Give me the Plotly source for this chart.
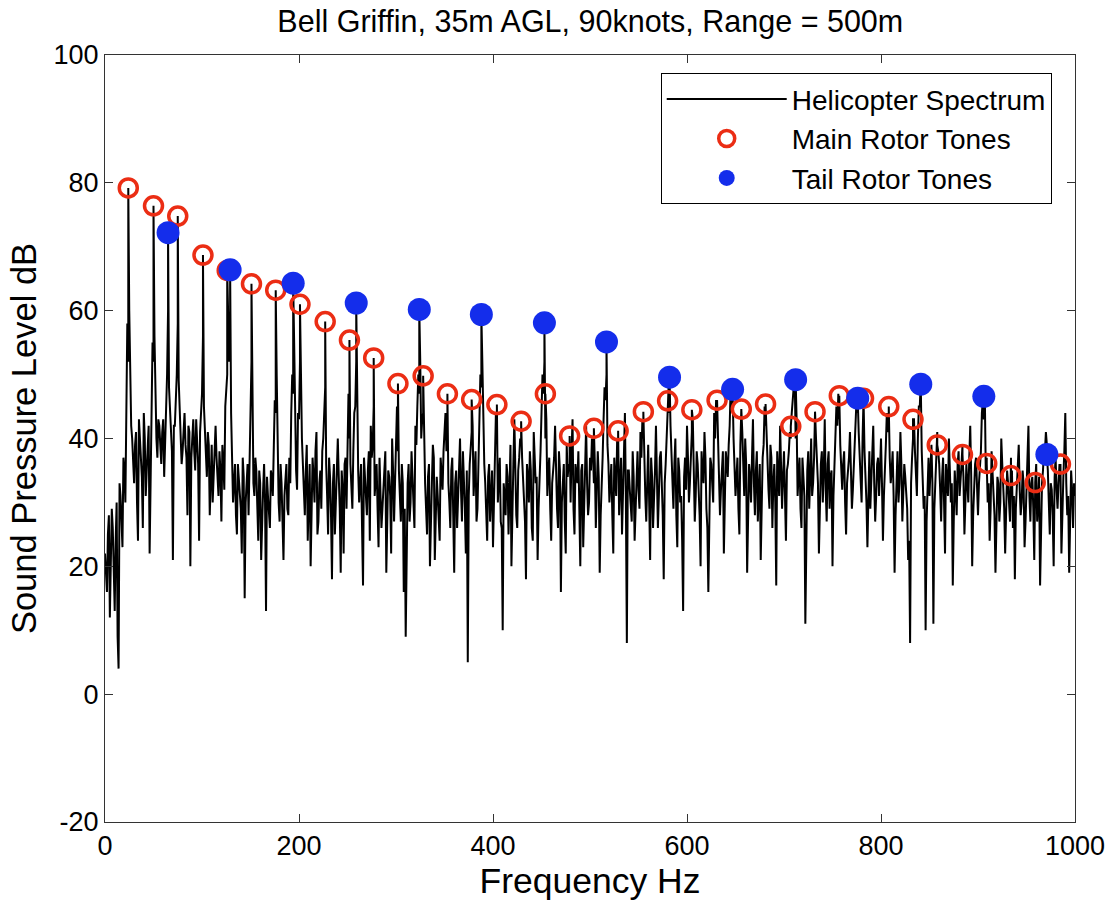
import numpy as np
import plotly.graph_objects as go

# ---------------- data ----------------
# Main rotor tones: frequency (Hz) and level (dB)
main_freq = [24, 50, 75, 101, 126, 151, 176, 201, 227, 252, 277, 302, 328, 353,
             378, 404, 429, 454, 479, 504, 529, 555, 580, 605, 631, 656, 681,
             707, 732, 757, 782, 808, 833, 858, 884, 909, 934, 959, 985]
main_db = [79.2, 76.4, 74.8, 68.7, 66.3, 64.2, 63.2, 61.0, 58.3, 55.4, 52.6,
           48.6, 49.8, 47.0, 46.1, 45.3, 42.7, 47.0, 40.4, 41.6, 41.2, 44.2,
           45.9, 44.5, 46.0, 44.6, 45.4, 41.9, 44.2, 46.7, 46.3, 45.0, 43.0,
           39.0, 37.5, 36.1, 34.2, 33.1, 36.0]

# Tail rotor tones
tail_freq = [65, 129, 194, 259, 324, 388, 453, 517, 582, 647, 712, 776, 841, 906, 971]
tail_db = [72.2, 66.4, 64.3, 61.2, 60.2, 59.4, 58.1, 55.1, 49.6, 47.7, 49.2,
           46.3, 48.5, 46.6, 37.5]

# Broadband spectrum (dB) on even-Hz bins 0, 2, ..., 1000
spec_db_even = [
    22, 16, 28, 19, 26, 13, 30, 4, 31, 23, 35, 45, 52, 47, 40, 33, 41, 24, 39, 34, 44, 31, 38, 22, 46,
    52, 44, 37, 42, 36, 43, 39, 50, 48, 40, 21, 42, 50, 49, 41, 38, 44, 37, 42, 20, 40, 38, 43, 36, 41,
    47, 45, 37, 41, 28, 39, 34, 42, 33, 38, 27, 36, 45, 50, 52, 44, 30, 36, 25, 34, 29, 37, 15, 33, 28,
    45, 40, 31, 35, 24, 33, 28, 36, 13, 31, 26, 34, 40, 44, 35, 27, 33, 21, 34, 29, 37, 44, 47, 39, 32,
    43, 45, 36, 28, 39, 33, 20, 37, 30, 41, 27, 35, 38, 44, 36, 25, 34, 18, 36, 31, 40, 29, 35, 22, 37,
    42, 40, 32, 38, 45, 41, 30, 36, 17, 34, 28, 38, 42, 39, 31, 36, 23, 33, 29, 37, 19, 35, 31, 40, 27,
    41, 38, 30, 36, 16, 9, 33, 27, 38, 31, 42, 45, 47, 40, 44, 33, 25, 36, 30, 39, 21, 34, 28, 37, 32,
    41, 38, 33, 26, 37, 19, 35, 30, 40, 27, 34, 22, 5, 36, 41, 31, 38, 29, 44, 48, 39, 33, 24, 36, 30,
    23, 37, 42, 34, 27, 10, 31, 36, 25, 39, 32, 43, 28, 35, 40, 37, 29, 18, 34, 38, 26, 41, 33, 21, 36,
    44, 47, 40, 31, 37, 24, 35, 42, 29, 38, 16, 33, 27, 39, 36, 30, 43, 25, 34, 38, 20, 36, 31, 42, 28,
    37, 40, 33, 26, 38, 19, 35, 43, 46, 39, 30, 36, 22, 34, 40, 28, 37, 31, 44, 8, 35, 29, 38, 24, 36,
    32, 41, 43, 35, 27, 39, 21, 34, 30, 42, 26, 37, 33, 18, 36, 45, 44, 38, 29, 40, 23, 35, 31, 13, 37,
    42, 30, 36, 43, 27, 38, 33, 20, 35, 41, 29, 16, 37, 32, 44, 46, 39, 28, 36, 22, 38, 34, 42, 45, 40,
    31, 37, 25, 44, 35, 40, 19, 36, 30, 43, 28, 38, 33, 21, 37, 45, 41, 32, 39, 26, 36, 17, 34, 42, 29,
    38, 24, 36, 41, 44, 47, 40, 31, 37, 26, 34, 11, 35, 29, 40, 33, 42, 37, 22, 36, 30, 43, 27, 38, 34,
    20, 37, 45, 47, 39, 32, 38, 25, 35, 41, 29, 36, 45, 44, 37, 30, 46, 35, 23, 38, 33, 42, 27, 36, 31,
    40, 24, 37, 44, 42, 33, 38, 19, 35, 30, 41, 27, 36, 32, 21, 8, 37, 43, 34, 40, 45, 38, 29, 10, 34,
    31, 39, 11, 33, 41, 36, 27, 37, 22, 34, 40, 30, 17, 35, 28, 38, 33, 39, 25, 36, 30, 42, 20, 33, 37,
    28, 36, 44, 43, 35, 30, 24, 38, 31, 19, 34, 27, 40, 33, 22, 35, 29, 37, 26, 18, 33, 39, 28, 35, 23,
    32, 42, 27, 34, 21, 36, 30, 17, 33, 38, 41, 35, 25, 32, 20, 37, 29, 36, 22, 34, 44, 28, 19, 35, 26,
    31,
]

# Broadband spectrum (dB) on odd-Hz bins 1, 3, ..., 999
spec_db_odd = [
    19, 25, 12, 29, 17, 24, 9, 33, 27, 37, 30, 58, 60, 42, 36, 39, 30, 43, 36, 26, 40, 35, 42, 33, 55,
    56, 40, 43, 38, 41, 34, 44, 60, 45, 38, 42, 46, 58, 44, 36, 42, 39, 28, 41, 37, 43, 35, 40, 24, 44,
    56, 41, 34, 39, 36, 30, 40, 37, 31, 35, 39, 32, 48, 58, 55, 38, 33, 28, 36, 31, 22, 34, 30, 36, 38,
    52, 33, 37, 29, 35, 21, 32, 30, 34, 27, 35, 31, 46, 50, 30, 36, 25, 31, 36, 28, 33, 50, 55, 35, 44,
    52, 40, 31, 35, 24, 36, 30, 34, 38, 25, 33, 29, 40, 48, 31, 37, 28, 33, 25, 38, 34, 19, 32, 36, 29,
    47, 36, 29, 44, 52, 35, 33, 26, 37, 31, 35, 24, 37, 45, 34, 29, 37, 26, 33, 38, 27, 34, 22, 35, 33,
    45, 35, 27, 33, 29, 24, 36, 30, 34, 26, 39, 50, 52, 43, 37, 29, 34, 20, 33, 37, 28, 31, 24, 35, 38,
    44, 42, 30, 35, 28, 33, 26, 36, 32, 38, 29, 35, 31, 38, 42, 35, 27, 36, 50, 52, 36, 29, 34, 27, 35,
    32, 44, 30, 37, 26, 33, 28, 34, 31, 20, 36, 33, 26, 37, 39, 33, 27, 36, 30, 35, 24, 37, 34, 29, 38,
    50, 52, 43, 35, 29, 33, 37, 32, 26, 35, 30, 36, 22, 34, 35, 38, 29, 36, 33, 27, 35, 23, 38, 33, 30,
    35, 38, 36, 31, 34, 28, 37, 48, 50, 36, 33, 28, 37, 31, 36, 33, 25, 38, 30, 35, 32, 27, 34, 29, 38,
    29, 37, 40, 31, 35, 30, 37, 26, 35, 33, 31, 38, 28, 33, 40, 48, 42, 33, 36, 28, 37, 30, 24, 34, 32,
    37, 33, 41, 35, 31, 36, 28, 38, 33, 37, 26, 33, 36, 30, 40, 43, 34, 32, 38, 29, 36, 39, 48, 49, 35,
    34, 29, 39, 41, 31, 36, 27, 34, 37, 33, 35, 27, 36, 31, 39, 42, 35, 29, 37, 33, 30, 38, 31, 36, 34,
    31, 35, 38, 40, 46, 50, 43, 34, 29, 37, 31, 27, 38, 34, 31, 37, 40, 33, 30, 38, 35, 32, 36, 29, 35,
    31, 40, 42, 43, 35, 36, 30, 33, 37, 34, 32, 40, 47, 41, 33, 40, 38, 30, 35, 29, 38, 33, 31, 37, 35,
    33, 31, 39, 41, 37, 35, 31, 28, 38, 33, 36, 31, 34, 29, 24, 33, 40, 38, 31, 45, 49, 34, 31, 27, 37,
    35, 33, 29, 37, 38, 32, 34, 30, 36, 31, 35, 33, 27, 32, 36, 31, 36, 34, 30, 33, 37, 34, 28, 36, 32,
    33, 38, 46, 47, 37, 33, 29, 34, 28, 31, 33, 30, 36, 29, 31, 33, 27, 35, 31, 29, 35, 32, 30, 33, 27,
    35, 31, 33, 29, 33, 27, 34, 30, 35, 38, 39, 31, 33, 28, 34, 32, 33, 35, 30, 38, 33, 31, 27, 32, 33,
]

title_text = "Bell Griffin, 35m AGL, 90knots, Range = 500m"
x_title = "Frequency Hz"
y_title = "Sound Pressure Level dB"
x_ticks = [0, 200, 400, 600, 800, 1000]
y_ticks = [-20, 0, 20, 40, 60, 80, 100]
y_tick_text = ["-20", "0", "20", "40", "60", "80", "100"]

# ---------------- build spectrum (noise bins + tone peaks) ----------------
pts = [(2 * i, v) for i, v in enumerate(spec_db_even)]
pts += [(2 * i + 1, v) for i, v in enumerate(spec_db_odd)]
pts += list(zip(main_freq, main_db)) + list(zip(tail_freq, tail_db))
pts.sort(key=lambda p: p[0])
sx = [p[0] for p in pts]
sy = [p[1] for p in pts]

FONT = "Liberation Sans, Arial, Helvetica, sans-serif"
RED = "rgb(235,45,20)"
BLUE = "rgb(20,45,235)"

fig = go.Figure()
fig.add_trace(go.Scatter(
    x=sx, y=sy, mode="lines", name="Helicopter Spectrum",
    line=dict(color="black", width=2), legendrank=1,
))
fig.add_trace(go.Scatter(
    x=main_freq, y=main_db, mode="markers", name="Main Rotor Tones",
    marker=dict(symbol="circle-open", size=18, color=RED, line=dict(width=3.5, color=RED)),
    legendrank=2,
))
fig.add_trace(go.Scatter(
    x=tail_freq, y=tail_db, mode="markers", name="Tail Rotor Tones",
    marker=dict(symbol="circle", size=23, color=BLUE, line=dict(width=0)),
    legendrank=3,
))

axis_common = dict(
    showline=True, linecolor="#333", linewidth=1, mirror="ticks",
    ticks="inside", ticklen=8, tickcolor="#333", showgrid=False, zeroline=False,
    tickfont=dict(family=FONT, size=27, color="black"),
)

fig.update_layout(
    width=1118, height=906,
    margin=dict(l=105, r=43, t=55, b=84),
    paper_bgcolor="white", plot_bgcolor="white",
    title=dict(text=title_text, x=0.528, xanchor="center", y=0.977, yanchor="middle",
               font=dict(family=FONT, size=30.5, color="black")),
    xaxis=dict(range=[0, 1000], tickvals=x_ticks,
               title=dict(text=x_title, font=dict(family=FONT, size=35.5, color="black"), standoff=4),
               **axis_common),
    yaxis=dict(range=[-20, 100], tickvals=y_ticks, ticktext=y_tick_text,
               title=dict(text=y_title, font=dict(family=FONT, size=34.5, color="black"), standoff=6),
               automargin=False,
               **axis_common),
    legend=dict(x=0.976, xanchor="right", y=0.976, yanchor="top",
                bgcolor="white", bordercolor="black", borderwidth=1,
                font=dict(family=FONT, size=28, color="black"),
                itemwidth=120, tracegroupgap=0),
    showlegend=True,
)

fig.write_html("out.html")
